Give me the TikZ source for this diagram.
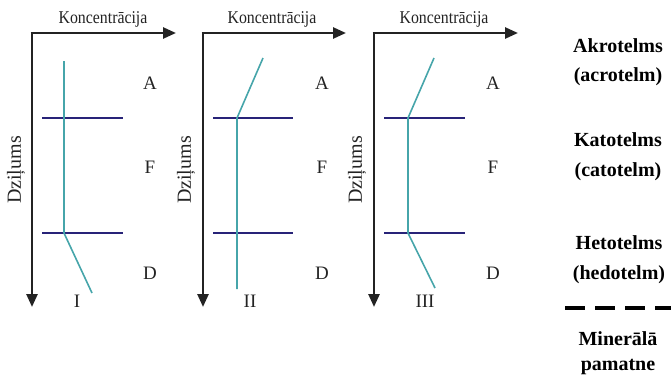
\documentclass[tikz,border=0pt]{standalone}
\usepackage{fontspec}
\setmainfont{Liberation Serif}
\usetikzlibrary{arrows.meta}
\definecolor{cyanline}{RGB}{70,165,170}
\definecolor{navyline}{RGB}{40,35,120}
\definecolor{axisgray}{RGB}{35,35,35}
\begin{document}
\begin{tikzpicture}[x=1pt,y=-1pt,
  axis/.style={axisgray,line width=2.6pt,-{Triangle[length=13pt,width=11pt]}},
  curve/.style={cyanline,line width=1.6pt,line join=round},
  layer/.style={navyline,line width=2.4pt},
  lab/.style={font=\fontsize{19}{19}\selectfont,inner sep=0pt,text=axisgray},
  toplab/.style={font=\fontsize{18}{18}\selectfont,inner sep=0pt,xscale=0.88,text=axisgray},
  ylab/.style={font=\fontsize{20}{20}\selectfont,inner sep=0pt,rotate=90,text=axisgray},
  sidelab/.style={font=\fontsize{20}{20}\selectfont\bfseries,inner sep=0pt},
  dashline/.style={line width=4pt,dash pattern=on 20pt off 10pt}]
\useasboundingbox (0,0) rectangle (671,378);
% ---- Panel I ----
\coordinate (c1) at (32,33);
\coordinate (h1) at (176,33);
\coordinate (v1) at (32,307);
\draw[axis] ([xshift=-1.3pt]c1) -- (h1);
\draw[axis] ([yshift=-1.3pt]c1) -- (v1);
\node[toplab] (k1) at (103,19) {Koncentrācija};
\node[ylab] (d1) at (16,170) {Dziļums};
\draw[layer] (42,118) -- (123,118);
\draw[layer] (42,233) -- (123,233);
\coordinate (p1a) at (64,61);
\coordinate (p1b) at (64,233);
\coordinate (p1c) at (92,293);
\draw[curve] (p1a) -- (p1b) -- (p1c);
\node[lab] (a1) at (150,83) {A};
\node[lab] (f1) at (150,167) {F};
\node[lab] (dd1) at (150,273) {D};
\node[lab] (r1) at (77,301) {I};
% ---- Panel II ----
\coordinate (c2) at (203,33);
\coordinate (h2) at (346,33);
\coordinate (v2) at (203,307);
\draw[axis] ([xshift=-1.3pt]c2) -- (h2);
\draw[axis] ([yshift=-1.3pt]c2) -- (v2);
\node[toplab] (k2) at (272,19) {Koncentrācija};
\node[ylab] (d2) at (186,170) {Dziļums};
\draw[layer] (213,118) -- (293,118);
\draw[layer] (213,233) -- (293,233);
\coordinate (p2a) at (263,58);
\coordinate (p2b) at (237,118);
\coordinate (p2c) at (237,289);
\draw[curve] (p2a) -- (p2b) -- (p2c);
\node[lab] (a2) at (322,83) {A};
\node[lab] (f2) at (322,167) {F};
\node[lab] (dd2) at (322,273) {D};
\node[lab] (r2) at (250,301) {II};
% ---- Panel III ----
\coordinate (c3) at (374,33);
\coordinate (h3) at (518,33);
\coordinate (v3) at (374,307);
\draw[axis] ([xshift=-1.3pt]c3) -- (h3);
\draw[axis] ([yshift=-1.3pt]c3) -- (v3);
\node[toplab] (k3) at (444,19) {Koncentrācija};
\node[ylab] (d3) at (357,170) {Dziļums};
\draw[layer] (384,118) -- (465,118);
\draw[layer] (384,233) -- (465,233);
\coordinate (p3a) at (434,58);
\coordinate (p3b) at (408,118);
\coordinate (p3c) at (408,233);
\coordinate (p3d) at (435,288);
\draw[curve] (p3a) -- (p3b) -- (p3c) -- (p3d);
\node[lab] (a3) at (493,83) {A};
\node[lab] (f3) at (493,167) {F};
\node[lab] (dd3) at (493,273) {D};
\node[lab] (r3) at (425,301) {III};
% ---- Right column ----
\node[sidelab] (s1) at (618,46) {Akrotelms};
\node[sidelab] (s2) at (618,77) {(acrotelm)};
\node[sidelab] (s3) at (618,140) {Katotelms};
\node[sidelab] (s4) at (618,172) {(catotelm)};
\node[sidelab] (s5) at (619,243) {Hetotelms};
\node[sidelab] (s6) at (619,275) {(hedotelm)};
\coordinate (dl) at (565,308);
\coordinate (dr) at (671,308);
\draw[dashline] (dl) -- (dr);
\node[sidelab] (s7) at (618,339) {Minerālā};
\node[sidelab] (s8) at (618,367) {pamatne};
\end{tikzpicture}
\end{document}
